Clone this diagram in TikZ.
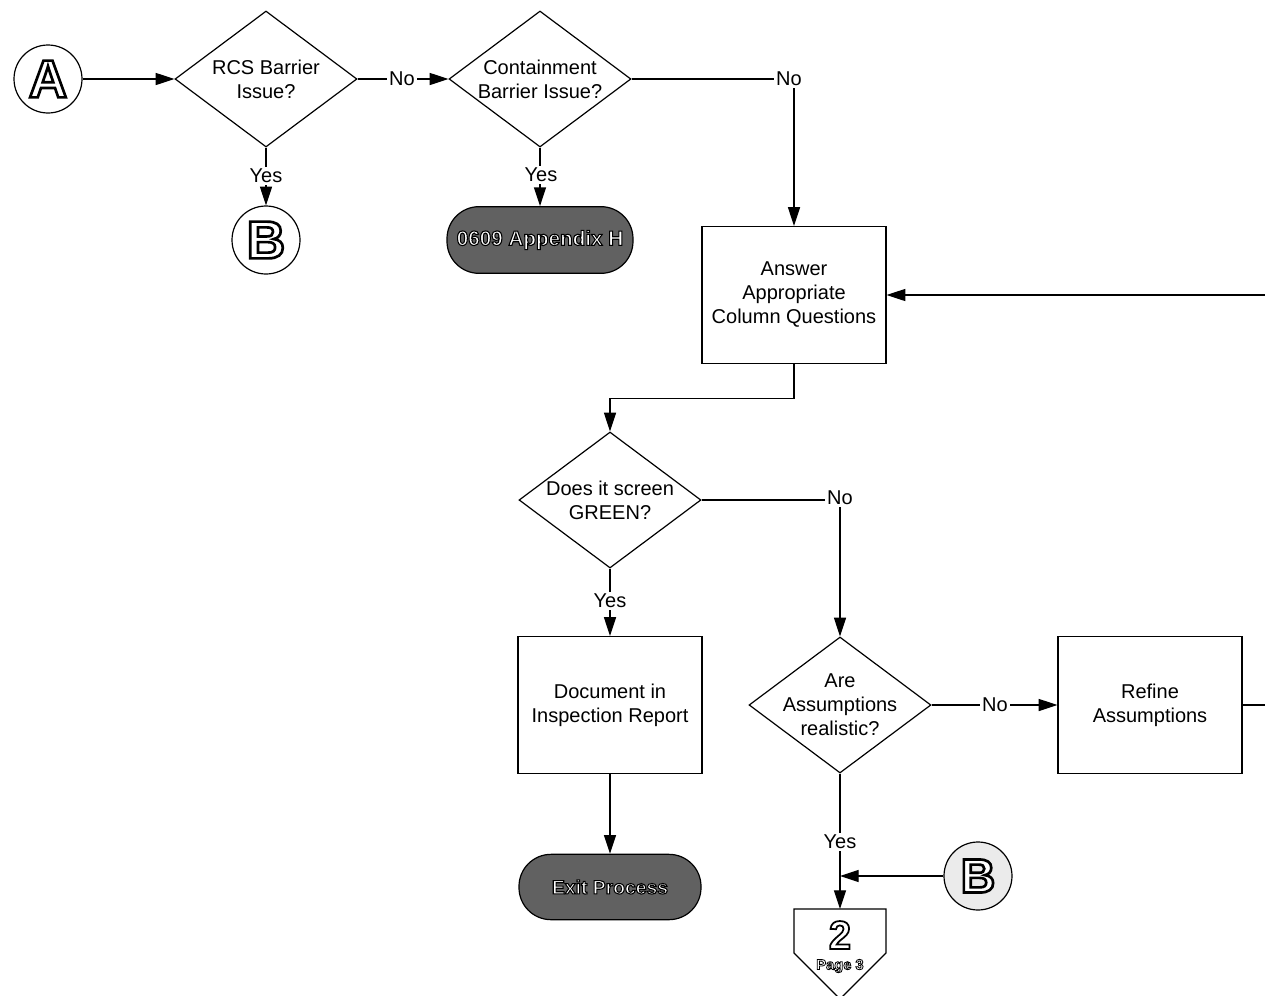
\documentclass[tikz,border=0pt]{standalone}
\usepackage{fontspec}
\setmainfont{Liberation Sans}
\usetikzlibrary{shapes.geometric,arrows.meta}
\newcommand\outl[2]{{\color{white}\special{pdf:literal direct 0 G 2 Tr #1 w}#2\special{pdf:literal direct 0 Tr}}}
\tikzset{
 dia/.style={draw, diamond, minimum width=136.5pt, minimum height=102pt, inner sep=0pt, fill=white},
 box/.style={draw, rectangle, minimum width=138pt, minimum height=102.75pt, align=center, fill=white},
 term/.style={draw, rounded corners=24pt, minimum width=139.5pt, minimum height=50pt, fill=black!62, inner sep=0pt},
 conn/.style={draw, circle, minimum size=51pt, inner sep=0pt, fill=white, font=\fontsize{40}{40}\selectfont\bfseries},
 lbl/.style={fill=white, inner sep=1.5pt},
 arr/.style={-{Triangle[length=14pt,width=9pt]}}
}
\begin{document}
\begin{tikzpicture}[x=0.75pt,y=-0.75pt, font=\fontsize{15}{18}\selectfont, line width=0.9pt]
\useasboundingbox (0,0) rectangle (1265,996);
% nodes
\node[conn] (A) at (48,79) {\outl{2}{A}};
\node[dia, label={[align=center]center:{RCS Barrier\\Issue?}}] (d1) at (266,79) {};
\node[dia, label={[align=center]center:{Containment\\Barrier Issue?}}] (d2) at (540,79) {};
\node[conn] (B1) at (266,240) {\outl{2}{B}};
\node[term, font=\fontsize{15.5}{18}\selectfont\bfseries] (t1) at (540,240) {\outl{0.8}{0609 Appendix H}};
\node[box] (box1) at (794,295) {Answer\\Appropriate\\Column Questions};
\node[dia, label={[align=center]center:{Does it screen\\GREEN?}}] (d3) at (610,500) {};
\node[box] (box2) at (610,705) {Document in\\Inspection Report};
\node[term, minimum width=136.5pt, minimum height=49pt, font=\fontsize{14.5}{18}\selectfont\bfseries] (t2) at (610,887) {\outl{0.8}{Exit Process}};
\node[dia, label={[align=center]center:{Are\\Assumptions\\realistic?}}] (d4) at (840,705) {};
\node[box] (box3) at (1150,705) {Refine\\Assumptions};
\node[conn, fill=black!8, font=\fontsize{36}{36}\selectfont\bfseries] (B2) at (978,876) {\outl{2}{B}};
\coordinate (R1) at (1265,295);
\coordinate (R2) at (1265,705);
\coordinate (J) at (840,876);
\coordinate (pgtop) at (840,909);
\draw[fill=white] (794,909) -- (886,909) -- (886,953) -- (840,999) -- (794,953) -- cycle;
\node[font=\fontsize{30}{30}\selectfont\bfseries] (p2) at (840,935) {\outl{1.3}{2}};
\node[font=\fontsize{11}{11}\selectfont\bfseries, inner sep=0pt] (p3) at (840,966) {\outl{0.6}{Page 3}};
% connectors
\draw[arr] (A) -- (d1.west);
\draw[arr] (d1.east) -- (d2.west);
\draw[arr] (d1.south) -- (B1.north);
\draw[arr] (d2.south) -- (t1.north);
\draw[arr] (d2.east) -| (box1.north);
\draw[arr] (R1) -- (box1.east);
\draw[arr] (box1.south) -- ++(0,34) -| (d3.north);
\draw[arr] (d3.east) -| (d4.north);
\draw[arr] (d3.south) -- (box2.north);
\draw[arr] (box2.south) -- (t2.north);
\draw[arr] (d4.east) -- (box3.west);
\draw (box3.east) -- (R2);
\draw[arr] (d4.south) -- (pgtop);
\draw[arr] (B2.west) -- (J);
% labels
\node[lbl] (l1) at (402,79) {No};
\node[lbl] (l2) at (266,176) {Yes};
\node[lbl] (l3) at (541,175) {Yes};
\node[lbl] (l4) at (789,79) {No};
\node[lbl] (l5) at (840,498) {No};
\node[lbl] (l6) at (610,601) {Yes};
\node[lbl] (l7) at (995,705) {No};
\node[lbl] (l8) at (840,842) {Yes};
\end{tikzpicture}
\end{document}
